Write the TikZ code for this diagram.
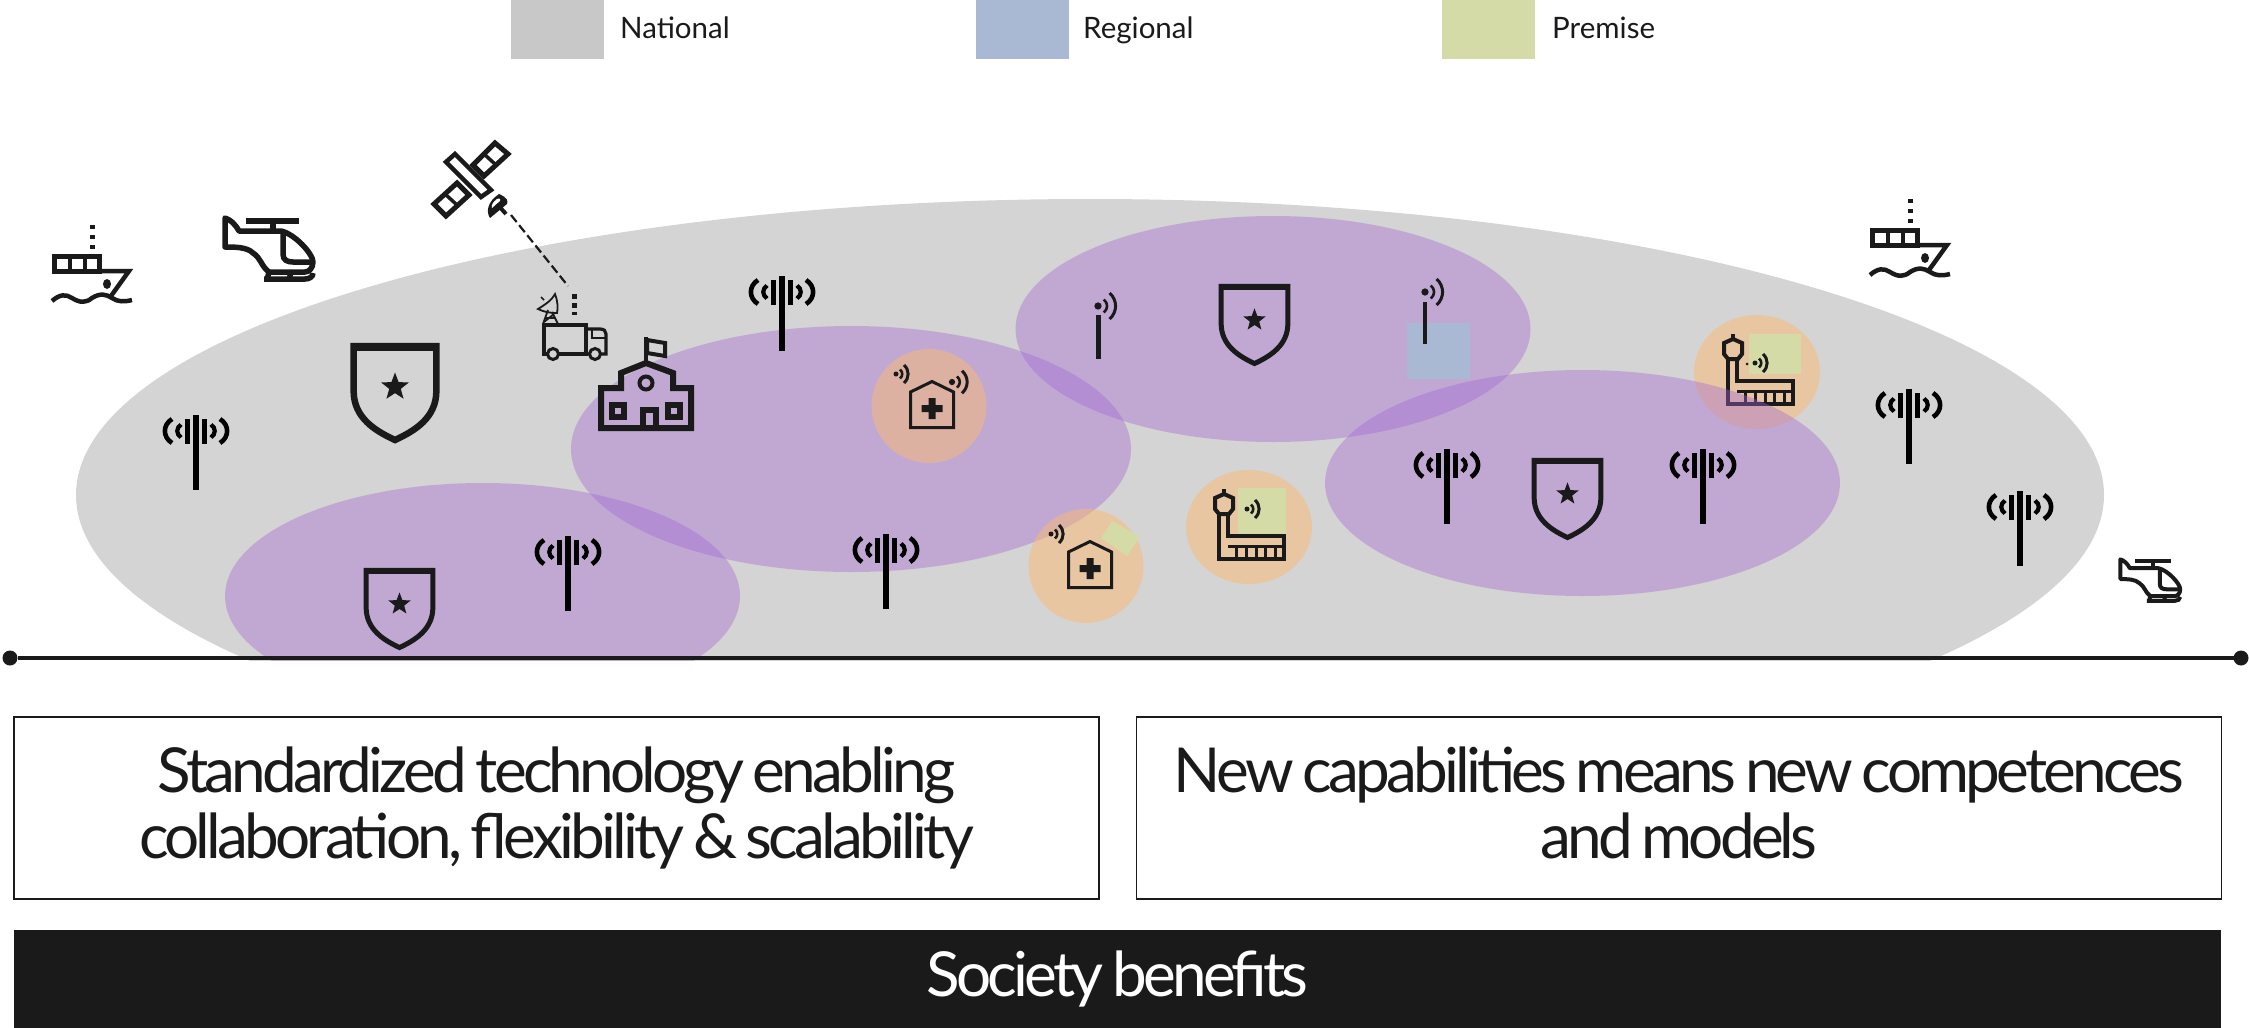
\documentclass[tikz,border=0pt]{standalone}
\usepackage{fontspec}
\setmainfont{Lato}
\newfontfamily\bigfont{Lato}[LetterSpace=-6.1,WordSpace=.7]
\definecolor{ink}{HTML}{1A1A1A}
\definecolor{greyzone}{HTML}{D4D4D4}
\definecolor{purplezone}{HTML}{A468D3}
\definecolor{orangezone}{HTML}{FABA70}
\definecolor{greenzone}{HTML}{D5DBA7}
\definecolor{bluezone}{HTML}{AAB9D3}
\definecolor{leggrey}{HTML}{C8C8C8}
\tikzset{
  purplearea/.style={fill=purplezone,fill opacity=.4},
  orangearea/.style={fill=orangezone,fill opacity=.5},
  iconline/.style={draw=ink,line width=#1,line join=miter},
  iconline/.default=4,
  legendbox/.style={minimum width=93pt,minimum height=59pt,inner sep=0pt,outer sep=0pt},
  legendtext/.style={anchor=base west,inner sep=0pt,font=\fontsize{29.5}{34}\selectfont,text=ink},
  msgbox/.style={draw=ink,line width=1.6pt,minimum width=1085pt,minimum height=182pt,inner sep=0pt,align=center,
     font=\bigfont\fontsize{62}{66}\selectfont,text=ink},
  endpoint/.style={circle,fill=ink,minimum size=15pt,inner sep=0pt,outer sep=0pt}
}
% star(cx,cy,r)
\newcommand\stargl[3]{\fill[ink,shift={(#1,#2)},scale=#3] (-90:1)--(-54:.42)--(-18:1)--(18:.42)--(54:1)--(90:.42)--(126:1)--(162:.42)--(198:1)--(234:.42)--cycle;}
% shield(x,y,w,h,lw)
\newcommand\shieldicon[5]{\begin{scope}[shift={(#1,#2)},xscale=#3,yscale=#4]
 \draw[draw=ink,line width=#5pt,line join=miter] (.03,.03)--(.97,.03)--(.97,.48) .. controls (.97,.75) and (.72,.88) .. (.5,.97) .. controls (.28,.88) and (.03,.75) .. (.03,.48) -- cycle;
 \fill[ink] (0,0) rectangle (1,.075);
 \end{scope}
 \pgfmathsetmacro\sx{#1+#3/2}\pgfmathsetmacro\sy{#2+.44*#4}\pgfmathsetmacro\sr{#3*.165}
 \stargl{\sx}{\sy}{\sr}}
% tower(x,top)
\newcommand\towericon[2]{\begin{scope}[shift={(#1,#2)}]
 \fill[black] (-3,0) rectangle (3,75);
 \fill[black] (-11,4) rectangle (-6,28.5);
 \fill[black] (6,4) rectangle (11,28.5);
 \draw[black,line width=4.6pt] (-24,4) .. controls (-33.5,10) and (-33.5,22) .. (-24,28);
 \draw[black,line width=4.6pt] (24,4) .. controls (33.5,10) and (33.5,22) .. (24,28);
 \draw[black,line width=4.2pt] (-15,9.5) .. controls (-20,13) and (-20,19) .. (-15,22.5);
 \draw[black,line width=4.2pt] (15,9.5) .. controls (20,13) and (20,19) .. (15,22.5);
 \end{scope}}
% wifi(x,y,scale)
\newcommand\wifiicon[3]{\begin{scope}[shift={(#1,#2)},scale=#3]
 \fill[ink] (0,0) circle (2.5);
 \draw[ink,line width=2.6pt] (4,-4.5) .. controls (7,-2) and (7,2) .. (4,4.5);
 \draw[ink,line width=3pt] (8,-9) .. controls (13.5,-4) and (13.5,4) .. (8,9);
 \end{scope}}
% hospital(x,y)
\newcommand\hospitalicon[2]{\begin{scope}[shift={(#1,#2)}]
 \draw[iconline=3pt] (1.5,47.5)--(1.5,12)--(23,1.5)--(44.5,12)--(44.5,47.5)--cycle;
 \fill[ink] (19.5,18)--(26.5,18)--(26.5,25)--(33.5,25)--(33.5,32)--(26.5,32)--(26.5,39)--(19.5,39)--(19.5,32)--(12.5,32)--(12.5,25)--(19.5,25)--cycle;
 \end{scope}}
% airport(x,y)
\newcommand\airporticon[2]{\begin{scope}[shift={(#1,#2)}]
 \draw[ink,line width=4pt] (12,0)--(12,6);
 \draw[iconline=4pt] (12,5)--(21,9)--(21,20)--(17,25)--(7,25)--(3,20)--(3,9)--cycle;
 \draw[iconline=4pt] (7,25)--(7,70)--(72,70)--(72,47)--(16,47)--(16,25);
 \draw[ink,line width=3pt] (16,57)--(72,57);
 \foreach \bx in {24.5,34,44,53.5,63}{\draw[ink,line width=3pt] (\bx,57)--(\bx,70);}
 \end{scope}}
% ship(dx,dy)
\newcommand\shipicon[2]{\begin{scope}[shift={(#1,#2)}]
 \draw[ink,line width=5pt,dash pattern=on 4.3pt off 5.7pt] (92,225)--(92,250);
 \draw[iconline=5pt] (54.5,256.5)--(99.5,256.5)--(99.5,271)--(54.5,271)--cycle;
 \draw[ink,line width=4pt] (70,256)--(70,271) (85,256)--(85,271);
 \draw[iconline=4.5pt,fill=none] (99,271)--(129,271)--(111,296);
 \fill[ink] (107,284) ellipse (4 and 5);
 \draw[ink,line width=4.5pt] (52,301) .. controls (60,294) and (66,294) .. (72,298) .. controls (80,303) and (86,303) .. (92,298) .. controls (100,293) and (106,294) .. (112,298) .. controls (118,302) and (124,302) .. (132,300);
 \end{scope}}
% helicopter(x,y,scale,lw)
\newcommand\heliicon[4]{\begin{scope}[shift={(#1,#2)},scale=#3]
 \fill[ink] (23,2) rectangle (76,8);
 \draw[ink,line width=#4pt] (50,8)--(50,14);
 \draw[ink,line width=#4pt,line join=round] (2,2) .. controls (8,4) and (12,8) .. (16,15) -- (58,15) .. controls (72,18) and (90,38) .. (90,46) .. controls (90,52) and (86,56) .. (82,56) -- (46,56) .. controls (38,50) and (38,42) .. (30,37) .. controls (24,31) and (12,31) .. (2,31) -- cycle;
 \draw[ink,line width=#4pt] (60,18)--(60,38) .. controls (60,44) and (64,46) .. (70,46)--(89,46);
 \draw[ink,line width=#4pt] (46,56)--(44,64) (68,56)--(66,64);
 \draw[ink,line width=#4pt] (41,63)--(82,63) .. controls (86,63) and (90,61) .. (90,57);
 \end{scope}}
\begin{document}
\begin{tikzpicture}[x=1pt,y=-1pt]
\useasboundingbox (0,0) rectangle (2249,1028);

% legend
\node[legendbox,fill=leggrey] (lgN) at (557.5,29.5) {};
\node[legendbox,fill=bluezone] (lgR) at (1022,29.5) {};
\node[legendbox,fill=greenzone] (lgP) at (1488,29.5) {};
\node[legendtext] (lgNt) at (620,38) {National};
\node[legendtext] (lgRt) at (1083,38) {Regional};
\node[legendtext] (lgPt) at (1552,38) {Premise};

% coverage zones
\begin{scope}
\clip (0,0) rectangle (2249,660);
\fill[greyzone] (1090,495) ellipse (1014 and 296);
\fill[purplearea] (482.5,596) ellipse (257.5 and 113);
\fill[purplearea] (851,449) ellipse (280 and 123);
\fill[purplearea] (1273,329) ellipse (257.5 and 113);
\fill[orangearea] (929,406) ellipse (57.5 and 57);
\fill[orangearea] (1086,566) ellipse (57.5 and 57);
\fill[orangearea] (1249,527) ellipse (63 and 57);
\fill[orangearea] (1757,372) ellipse (63 and 57);
\fill[greenzone] (1749,334) rectangle (1801,374);
\airporticon{1721}{334}
\fill[purplearea] (1582.5,483) ellipse (257.5 and 113);
\fill[bluezone] (1407,323) rectangle (1470,379);
\fill[greenzone] (1238,488) rectangle (1286,534);
\fill[greenzone] (1112,521)--(1140,537)--(1127,556)--(1101,538)--cycle;
\end{scope}

% icons
\shipicon{0}{0}
\shipicon{1818}{-26}
\heliicon{223}{216}{1}{5.5}
\heliicon{2119}{558}{.68}{4}

% satellite
\draw[iconline=5pt] (495,143)--(508,154)--(484,176)--(473,165)--cycle;
\draw[ink,line width=3.5pt] (484,154)--(496,165);
\draw[iconline=5pt] (434,204)--(446,216)--(469,195)--(457,183)--cycle;
\draw[ink,line width=3.5pt] (445,194)--(457,205);
\draw[iconline=4.5pt] (455,154)--(446,162)--(481,197)--(491,190)--cycle;
\fill[ink] (499,194) .. controls (508,198) and (508,201) .. (507,204) -- (490,218) .. controls (486,212) and (487,202) .. (499,194) -- cycle;
\fill[white] (497,199) .. controls (500,198) and (501,199) .. (500,201) -- (492,208) .. controls (491,205) and (493,202) .. (497,199) -- cycle;
\draw[ink,line width=4pt] (497,204)--(506,214);
\coordinate (satfeed) at (511,215);
\coordinate (trucklink) at (568,286);
\draw[ink,line width=2.2pt,dash pattern=on 9pt off 4pt] (satfeed)--(trucklink);

% truck
\draw[iconline=3.2pt] (544,325)--(586,325)--(586,354)--(544,354)--cycle;
\draw[iconline=3.2pt] (586,329)--(600,329) .. controls (604,329) and (606,331) .. (606,334) -- (606,354) -- (586,354);
\draw[ink,line width=2.2pt] (592,329)--(592,338)--(606,338);
\foreach \wx in {553,595}{\draw[ink,line width=3pt,fill=greyzone] (\wx,354) circle (5.5);}
\draw[ink,line width=5pt,dash pattern=on 4.5pt off 4.5pt] (574,294)--(574,315);
\draw[ink,line width=1.8pt,fill=greyzone] (555,294) .. controls (558,302) and (558,308) .. (557,313) .. controls (550,313) and (544,312) .. (538,309) .. controls (546,304) and (552,300) .. (555,294) -- cycle;
\draw[ink,line width=1.8pt] (548,310)--(543,324) (552,312)--(558,324) (546,318)--(555,318) (544,322)--(554,314);
\draw[ink,line width=1.5pt] (541,297)--(544,300);

% school
\draw[iconline=6pt] (601,428)--(601,388)--(621,388)--(621,373)--(646,363)--(673,373)--(673,388)--(691,388)--(691,428)--cycle;
\draw[ink,line width=4.5pt] (646,337)--(646,363);
\draw[iconline=4pt] (647,340)--(665,343)--(665,356)--(647,353)--cycle;
\draw[ink,line width=4pt] (646,383) circle (6.5);
\draw[iconline=5.5pt] (643,431)--(643,410)--(656,410)--(656,431);
\draw[iconline=6pt] (612,405)--(624,405)--(624,417)--(612,417)--cycle;
\draw[iconline=6pt] (668,405)--(680,405)--(680,417)--(668,417)--cycle;

% shields
\shieldicon{351}{343}{88}{100}{6.5}
\shieldicon{364}{568}{71}{82}{5}
\shieldicon{1219}{284}{71}{82}{5}
\shieldicon{1532}{458}{71}{82}{5}

% towers
\towericon{196}{415}
\towericon{782}{276}
\towericon{568}{536}
\towericon{886}{534}
\towericon{1447}{449}
\towericon{1703}{449}
\towericon{1909}{389}
\towericon{2020}{491}

% small antennas
\fill[ink] (1095.5,315) rectangle (1100.5,359);
\wifiicon{1098}{306}{1.45}
\fill[ink] (1423,302) rectangle (1427,344);
\wifiicon{1425}{292}{1.45}

% hospitals
\hospitalicon{909}{380}
\wifiicon{896}{374}{1}
\wifiicon{952}{382}{1.25}
\hospitalicon{1067}{540}
\wifiicon{1051}{534}{1}

% airport (free one)
\airporticon{1212}{489}
\wifiicon{1247}{509}{1}
\wifiicon{1755}{363}{1}
\fill[ink] (1747,364) circle (1.5);

% ground line
\node[endpoint] (lineL) at (10,658) {};
\node[endpoint] (lineR) at (2241,658) {};
\draw[ink,line width=4pt] (lineL)--(lineR);

% message boxes
\node[msgbox] (msgA) at (556.5,808) {Standardized technology enabling\\collaboration, flexibility \& scalability};
\node[msgbox] (msgB) at (1679,808) {New capabilities means new competences\\and models\vphantom{g,}};
\node[fill=ink,minimum width=2207pt,minimum height=98pt,inner sep=0pt,text=white,font=\bigfont\fontsize{62}{66}\selectfont] (benefit) at (1117.5,979) {Society benefits};
\end{tikzpicture}
\end{document}
